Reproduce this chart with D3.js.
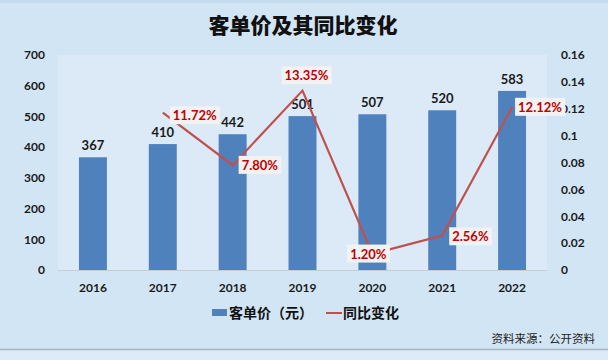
<!DOCTYPE html>
<html><head><meta charset="utf-8">
<script src="https://cdn.jsdelivr.net/npm/d3@7"></script>
<style>
body{margin:0;padding:0;}
svg{display:block;}
</style></head>
<body>
<svg id="c" width="608" height="360"></svg>
<script>
const years = ["2016","2017","2018","2019","2020","2021","2022"];
const price = [367,410,442,501,507,520,583];
const yoy = [null,0.1172,0.0780,0.1335,0.0120,0.0256,0.1212];
const yoyLabels = ["","11.72%","7.80%","13.35%","1.20%","2.56%","12.12%"];
const leftTicks = [0,100,200,300,400,500,600,700];
const rightTicks = [0,0.02,0.04,0.06,0.08,0.1,0.12,0.14,0.16];
const rightTickLabels = ["0","0.02","0.04","0.06","0.08","0.1","0.12","0.14","0.16"];

const svg = d3.select("#c");
const W=608,H=360;
const numFont = "Lato, 'Noto Sans', sans-serif";
const cjk = "'Noto Sans CJK SC', sans-serif";

svg.append("rect").attr("width",W).attr("height",H).attr("fill","#d2e5f4");
svg.append("rect").attr("width",W).attr("height",3).attr("fill","#c5dbee");
svg.append("rect").attr("y",350).attr("width",W).attr("height",10).attr("fill","#dcebf7");
svg.append("line").attr("x1",0).attr("x2",W).attr("y1",349.5).attr("y2",349.5).attr("stroke","#a9b3bd").attr("stroke-width",1.5);

const m={l:58,r:547,t:55,b:270};
svg.append("rect").attr("x",m.l).attr("y",m.t).attr("width",m.r-m.l).attr("height",m.b-m.t).attr("fill","#dbeaf6");

const x = d3.scaleBand().domain(years).range([m.l,m.r]).paddingInner(0.6).paddingOuter(0.3);
const y = d3.scaleLinear().domain([0,700]).range([m.b,m.t]);
const y2 = d3.scaleLinear().domain([0,0.16]).range([m.b,m.t]);

// title
svg.append("text").attr("x",303).attr("y",33).attr("text-anchor","middle")
  .attr("font-family",cjk).attr("font-weight","900").attr("font-size",21).attr("fill","#111").text("客单价及其同比变化");

// bars
svg.selectAll("rect.bar").data(price).enter().append("rect").attr("class","bar")
  .attr("x",(d,i)=>x(years[i])).attr("width",x.bandwidth())
  .attr("y",d=>y(d)).attr("height",d=>y(0)-y(d)).attr("fill","#4f81bd");

// baseline
svg.append("line").attr("x1",m.l).attr("x2",m.r).attr("y1",m.b+0.5).attr("y2",m.b+0.5).attr("stroke","#c8ccd0");

// bar labels
svg.selectAll("text.bl").data(price).enter().append("text")
  .attr("x",(d,i)=>x(years[i])+x.bandwidth()/2).attr("y",d=>y(d)-7)
  .attr("text-anchor","middle").attr("font-family",numFont).attr("font-weight","bold").attr("font-size",13).attr("fill","#1a1a1a")
  .text(d=>d);

// axes
const la = d3.axisLeft(y).tickValues(leftTicks).tickSize(0).tickPadding(0);
const gl = svg.append("g").attr("transform",`translate(45,0)`).call(la);
gl.select(".domain").remove();
gl.selectAll("text").attr("font-family",numFont).attr("font-weight","bold").attr("font-size",12).attr("fill","#1a1a1a");

const ra = d3.axisRight(y2).tickValues(rightTicks).tickSize(0).tickPadding(0).tickFormat((d,i)=>rightTickLabels[i]);
const gr = svg.append("g").attr("transform",`translate(561,0)`).call(ra);
gr.select(".domain").remove();
gr.selectAll("text").attr("font-family",numFont).attr("font-weight","bold").attr("font-size",12).attr("fill","#1a1a1a");

const xa = d3.axisBottom(x).tickSize(0).tickPadding(0);
const gx = svg.append("g").attr("transform",`translate(0,${m.b+22})`).call(xa);
gx.select(".domain").remove();
gx.selectAll("text").attr("dy",0).attr("font-family",numFont).attr("font-weight","bold").attr("font-size",12).attr("fill","#1a1a1a");

// line
const pts = years.map((yr,i)=>({yr,v:yoy[i],lab:yoyLabels[i]})).filter(d=>d.v!==null);
const line = d3.line().x(d=>x(d.yr)+x.bandwidth()/2).y(d=>y2(d.v));
svg.append("path").datum(pts).attr("d",line).attr("fill","none").attr("stroke","#c0504d").attr("stroke-width",2.2);

// line labels: offsets [dx, dy, anchor]
const off = {"2017":[7,3,"start"],"2018":[6,0,"start"],"2019":[4,-15,"middle"],"2020":[-4,0,"middle"],"2021":[7,1,"start"],"2022":[3,0,"start"]};
pts.forEach(d=>{
  const px = x(d.yr)+x.bandwidth()/2, py = y2(d.v);
  const o = off[d.yr];
  const g = svg.append("g");
  const t = g.append("text").attr("x",px+o[0]+3).attr("y",py+o[1]).attr("dy","0.36em")
    .attr("text-anchor",o[2]==="middle"?"middle":"start")
    .attr("font-family",numFont).attr("font-weight","bold").attr("font-size",13).attr("fill","#c00000").text(d.lab);
  if(o[2]==="middle") t.attr("x",px+o[0]);
  const bb = t.node().getBBox();
  g.insert("rect","text").attr("x",bb.x-3).attr("y",bb.y-1).attr("width",bb.width+6).attr("height",bb.height+2).attr("fill","#f2f2f2");
});

// legend
svg.append("rect").attr("x",212).attr("y",309).attr("width",15).attr("height",7).attr("fill","#4f81bd");
svg.append("text").attr("x",229).attr("y",318).attr("font-family",cjk).attr("font-weight","bold").attr("font-size",14).attr("fill","#111").text("客单价（元）");
svg.append("line").attr("x1",326).attr("x2",342).attr("y1",313).attr("y2",313).attr("stroke","#c0504d").attr("stroke-width",2);
svg.append("text").attr("x",343).attr("y",318).attr("font-family",cjk).attr("font-weight","bold").attr("font-size",14).attr("fill","#111").text("同比变化");

// source
svg.append("text").attr("x",595).attr("y",343).attr("text-anchor","end").attr("font-family",cjk).attr("font-size",11.5).attr("fill","#222").text("资料来源：公开资料");
</script>
</body></html>
